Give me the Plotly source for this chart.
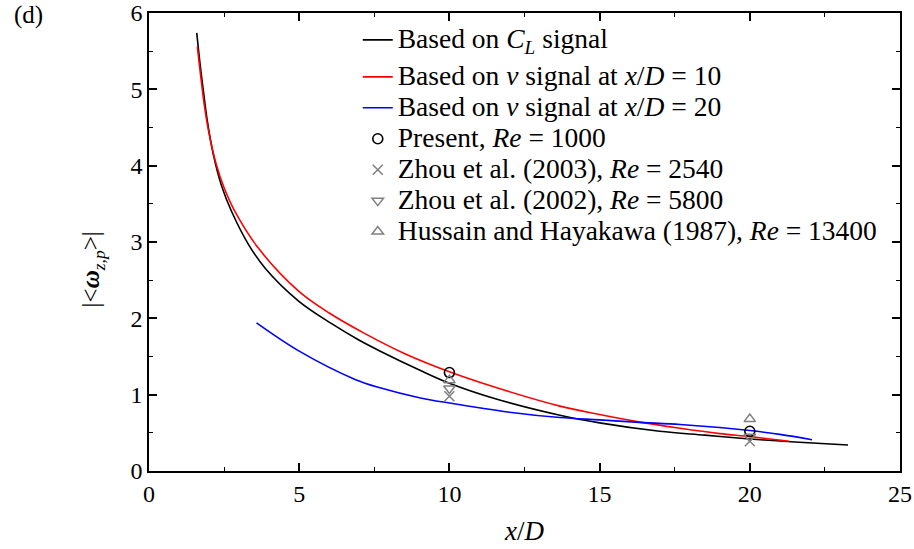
import plotly.graph_objects as go

# Black: based on C_L signal
cl_x = [1.59, 1.70, 1.81, 1.94, 2.14, 2.42, 2.75, 3.31, 3.86, 4.97, 6.08, 6.97, 7.7, 9.02, 10, 11.5, 13.68, 15, 17.0, 18.5, 20, 21.5, 23.27]
cl_y = [5.74, 5.33, 4.98, 4.59, 4.15, 3.73, 3.40, 2.97, 2.66, 2.23, 1.93, 1.72, 1.57, 1.32, 1.15, 0.95, 0.73, 0.63, 0.52, 0.47, 0.42, 0.38, 0.34]

# Red: based on v signal at x/D = 10
v10_x = [1.61, 1.84, 1.99, 2.23, 2.5, 2.86, 3.64, 4.97, 6.0, 7.19, 8.5, 10, 11.5, 13.68, 15, 16.2, 17.68, 19, 20, 21.3]
v10_y = [5.56, 4.80, 4.44, 4.03, 3.71, 3.40, 2.92, 2.36, 2.07, 1.80, 1.54, 1.30, 1.10, 0.85, 0.74, 0.65, 0.56, 0.49, 0.45, 0.39]

# Blue: based on v signal at x/D = 20
v20_x = [3.58, 5.0, 6.86, 7.69, 9.0, 10, 12, 13.68, 15, 16.2, 17.68, 19, 20, 21, 22.07]
v20_y = [1.94, 1.57, 1.20, 1.09, 0.96, 0.89, 0.77, 0.70, 0.67, 0.64, 0.61, 0.57, 0.53, 0.48, 0.41]

# Markers
present_x = [10, 20]
present_y = [1.29, 0.52]
zhou03_x = [10, 20]
zhou03_y = [0.98, 0.39]
zhou02_x = [10, 20]
zhou02_y = [1.08, 0.45]
huss_x = [10, 20]
huss_y = [1.19, 0.68]

FONT = 'Liberation Serif, "Times New Roman", Times, serif'
GRAY = "#808080"


def big(s):
    return '<span style="font-size:27.5px">' + s + '</span>'


fig = go.Figure()
line_opts = dict(width=1.6, shape="spline", smoothing=1.0)
fig.add_trace(go.Scatter(x=cl_x, y=cl_y, mode="lines", line=dict(color="black", **line_opts),
                         legendgroup="a",
                         name=big("Based on <i>C</i><sub><i>L</i></sub> signal")))
fig.add_trace(go.Scatter(x=v10_x, y=v10_y, mode="lines", line=dict(color="#ff0000", **line_opts),
                         legendgroup="b",
                         name=big("Based on <i>v</i> signal at <i>x</i>/<i>D</i> = 10")))
fig.add_trace(go.Scatter(x=v20_x, y=v20_y, mode="lines", line=dict(color="#0000ff", **line_opts),
                         legendgroup="b",
                         name=big("Based on <i>v</i> signal at <i>x</i>/<i>D</i> = 20")))
fig.add_trace(go.Scatter(x=present_x, y=present_y, mode="markers", legendgroup="b",
                         marker=dict(symbol="circle-open", size=10, color="black", line=dict(width=1.6)),
                         name=big("Present, <i>Re</i> = 1000")))
fig.add_trace(go.Scatter(x=zhou03_x, y=zhou03_y, mode="markers", legendgroup="b",
                         marker=dict(symbol="x-thin-open", size=10, color=GRAY, line=dict(width=1.5, color=GRAY)),
                         name=big("Zhou et al. (2003), <i>Re</i> = 2540")))
fig.add_trace(go.Scatter(x=zhou02_x, y=zhou02_y, mode="markers", legendgroup="b",
                         marker=dict(symbol="triangle-down-open", size=10, color=GRAY, line=dict(width=1.5)),
                         name=big("Zhou et al. (2002), <i>Re</i> = 5800")))
fig.add_trace(go.Scatter(x=huss_x, y=huss_y, mode="markers", legendgroup="b",
                         marker=dict(symbol="triangle-up-open", size=10, color=GRAY, line=dict(width=1.5)),
                         name=big("Hussain and Hayakawa (1987), <i>Re</i> = 13400")))

axis_common = dict(
    showline=True, linecolor="black", linewidth=1.5, mirror="allticks",
    ticks="inside", ticklen=8, tickwidth=1.5, tickcolor="black",
    showgrid=False, zeroline=False, ticklabeloverflow="allow", automargin=False,
    tickfont=dict(family=FONT, size=24, color="black"),
)

fig.update_xaxes(range=[0, 25], dtick=5, tick0=0,
                 minor=dict(dtick=2.5, ticks="inside", ticklen=4, tickwidth=1.2, tickcolor="black"),
                 **axis_common)
fig.update_yaxes(range=[0, 6], dtick=1, tick0=0,
                 minor=dict(dtick=0.5, ticks="inside", ticklen=4, tickwidth=1.2, tickcolor="black"),
                 **axis_common)

# axis titles placed as annotations to match reference positions
fig.add_annotation(text="<i>x</i>/<i>D</i>", xref="paper", yref="paper",
                   x=0.5, y=-0.13, xanchor="center", yanchor="middle",
                   showarrow=False, font=dict(family=FONT, size=27, color="black"))
fig.add_annotation(text="|&lt;<b><i>ω</i></b><sub><i>z,p</i></sub>&gt;|", xref="paper", yref="paper",
                   x=-0.0746, y=0.44, xanchor="center", yanchor="middle", textangle=-90,
                   showarrow=False, font=dict(family=FONT, size=25, color="black"))

fig.add_annotation(text="(d)", xref="paper", yref="paper", x=-0.161, y=0.995, xanchor="center", yanchor="middle",
                   showarrow=False, font=dict(family=FONT, size=25, color="black"))

fig.update_layout(
    width=914, height=549,
    margin=dict(l=149, r=14, t=13, b=78, autoexpand=False),
    plot_bgcolor="white", paper_bgcolor="white",
    font=dict(family=FONT, color="black"),
    legend=dict(x=0.278, y=0.986, xanchor="left", yanchor="top", bgcolor="rgba(0,0,0,0)",
                font=dict(family=FONT, size=21.5, color="black"), tracegroupgap=6,
                traceorder="grouped"),
    showlegend=True,
)

fig.write_html("out.html")
